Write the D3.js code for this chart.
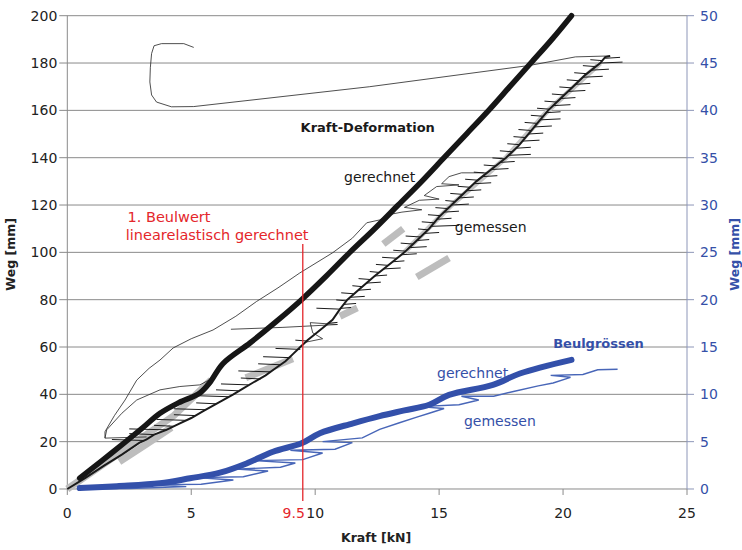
<!DOCTYPE html>
<html>
<head>
<meta charset="utf-8">
<script src="https://cdn.jsdelivr.net/npm/d3@7"></script>
<style>
    body { margin: 0; background: #fff; }
    text { font-family: "DejaVu Sans", sans-serif; }
</style>
</head>
<body>
<div id="graph"></div>
<script>
// Axis ticks
const xTicks = [0, 5, 10, 15, 20, 25];
const yLeftTicks = [0, 20, 40, 60, 80, 100, 120, 140, 160, 180, 200];
const yRightTicks = [0, 5, 10, 15, 20, 25, 30, 35, 40, 45, 50];
const beulwert = 9.5;

// Kraft-Deformation gerechnet [kN, mm]
const calcDeform = [[0.5,4.6],[1.4,12],[2.36,20],[3.0,25.5],[3.74,32],[4.5,36.5],[5.35,40.6],[5.75,45],[6.28,53],
    [7.37,61.7],[8.4,70.5],[9.45,80],[10.45,90],[11.4,100],[12.4,110],[13.35,120],[14.3,130],[15.2,140],
    [16.1,150],[17.0,160],[17.85,170],[18.7,180],[19.55,190],[20.34,200]];

// Kraft-Deformation gemessen, main trace [kN, mm]
const measDeform = [[0,0],[0.7,4.5],[1.5,10],[2.2,14.5],[2.9,19.5],[3.2,21],[3.5,23],[4.0,25],[4.5,27.5],
    [5.0,30],[5.5,33],[6.1,36.5],[6.7,40],[7.1,42.5],[7.5,45],[8.0,48],[8.4,51],[8.8,54],[9.1,57],[9.4,60],
    [9.7,63],[10.0,65.5],[10.3,68],[10.7,71.5],[11.0,76],[11.3,80],[11.85,85],[12.4,90],[13.0,95],[13.6,100],
    [14.1,105],[14.6,110],[15.0,115],[15.5,120],[16.0,125],[16.5,130],[17.1,135],[17.7,140],[18.2,145],
    [18.6,150],[19.0,155],[19.4,160],[19.9,165],[20.4,170],[20.9,175],[21.5,180],[21.7,182.5],[21.9,183]];

// Short spikes on the measured trace [kN, mm, spike length kN]
const measSpikes = [[3.1,20.5,-1.3],[3.5,23,-1.0],[4.0,25,-1.5],[4.3,26.5,-0.8],[4.8,29,-1.2],[5.2,31,-0.9],
    [5.6,33.5,-1.3],[6.0,36,-0.8],[6.5,39,-1.2],[6.9,41.5,-0.9],[7.3,44,-1.1],[7.8,46.5,-0.8],[8.2,49.5,-1.3],
    [8.6,52.5,-0.9],[9.0,55.5,-1.1],[9.4,59,-1.0],[9.7,62.5,-0.5],[10.5,70,0.4],[11.0,76,-0.95],[11.0,76.3,0.45],
    [11.15,78,0.5],[11.25,79.5,-0.4],[11.4,81,0.6],[11.55,82.5,-0.5],[11.75,84,0.5],[11.9,85.5,-0.4],
    [12.05,87,0.6],[12.25,88.5,-0.5],[12.4,90,0.5],[12.6,91.5,-0.4],[12.75,93,0.7],[12.95,94.5,-0.5],
    [13.1,96,0.5],[13.3,97.5,-0.6],[13.5,99,0.6],[13.65,100.5,-0.5],[13.8,102,0.7],[13.95,103.5,-0.5],
    [14.1,105,0.5],[14.25,106.5,-0.6],[14.4,108,0.6],[14.55,109.5,-0.4],[14.7,111,1.1],[14.8,112.5,-0.5],
    [14.9,114,0.6],[15.05,115.5,-0.5],[15.2,117,0.6],[15.35,118.5,-0.5],[15.5,120,0.7],[15.65,121.5,-0.4],
    [15.8,123,0.6],[15.95,124.5,-0.5],[16.1,126,0.6],[16.25,127.5,-0.5],[16.4,129,0.7],[16.55,130.5,-0.5],
    [16.75,132,0.6],[16.9,133.5,-0.5],[17.1,135,0.7],[17.3,136.5,-0.5],[17.45,138,0.6],[17.65,139.5,-0.5],
    [17.8,141,0.9],[17.95,142.5,-0.5],[18.1,144,0.6],[18.25,145.5,-0.5],[18.35,147,0.7],[18.5,148.5,-0.5],
    [18.6,150,0.6],[18.7,151.5,-0.5],[18.85,153,0.7],[18.95,154.5,-0.5],[19.1,156,0.8],[19.2,157.5,-0.5],
    [19.3,159,0.6],[19.45,160.5,-0.5],[19.6,162,0.7],[19.75,163.5,-0.5],[19.9,165,0.6],[20.05,166.5,-0.5],
    [20.2,168,0.7],[20.35,169.5,-0.5],[20.5,171,0.6],[20.65,172.5,-0.5],[20.8,174,0.8],[20.95,175.5,-0.5],
    [21.15,177,0.7],[21.3,178.5,-0.5],[21.5,180,0.9],[21.6,181,-0.5],[21.7,182,0.6]];

// Measured trace after unloading [kN, mm]
const measUnload = [[21.9,183],[20.5,182.6],[18.66,179],[12.2,170],[5.1,161.6],[4.2,161.5],[3.6,163.5],
    [3.4,166.5],[3.33,172],[3.35,178],[3.4,184],[3.5,187.3],[3.8,188.2],[4.7,188.2],[5.1,186.6]];

// Thin envelope traces [kN, mm]
const thinUpper = [[1.52,21.5],[1.52,24.2],[1.9,31],[2.33,37.6],[2.8,46],[3.3,51],[3.74,54.5],[4.27,59.6],
    [5.0,63.5],[5.88,67.2],[6.8,73],[7.63,79.2],[8.5,85],[9.38,91.3],[10.7,99.8],[11.5,106],[12.08,112.5],
    [12.6,113.7],[13.0,116],[13.5,117],[14.3,118],[13.6,119],[14.2,122],[15.0,122.5],[14.4,124],
    [14.9,127.8],[15.8,128.5],[15.1,129],[15.4,132],[15.9,133.6],[16.8,133.6]];
const thinInner = [[3.2,22],[1.52,21.5],[1.59,25],[2.2,32],[2.8,37.6],[3.74,41.9],[4.54,43.3],[5.35,44],
    [5.6,45.4],[5.9,47]];
const thinMid = [[6.6,67.5],[8.7,68.3],[10.9,69.5],[9.8,70.3],[9.9,66],[10.3,63.5],[9.6,62]];

// Grey measured band segments [kN, mm]
const greyBands = [
    [[0,0],[2.5,18],[4.3,31],[5.8,46]],
    [[2.1,11.5],[3.2,19],[4.2,26]],
    [[7.2,47],[9.1,55]],
    [[11.0,73],[11.7,76.5]],
    [[12.75,103.5],[13.55,110]],
    [[14.1,89.6],[15.4,97.6]]
];
const greyTrace = [[13.6,100],[15.5,120],[17.7,140],[19.4,160],[21.5,180]];

// Beulgrössen [kN, Weq mm]
const calcBuckle = [[0.5,0.1],[2.0,0.3],[3.74,0.6],[4.95,1.13],[6.16,1.72],[7.23,2.7],[8.3,3.94],[9.45,4.83],
    [10.19,5.89],[11.53,6.94],[12.6,7.7],[13.6,8.3],[14.6,8.9],[15.4,9.94],[17.17,11],[18.26,12.2],[20.34,13.64]];
const measBuckle = [[0.5,0],[2.5,0.05],[4.8,0.25],[3.0,0.45],[5.4,0.5],[6.7,0.95],[5.2,1.2],[7.1,1.3],
    [8.1,1.9],[6.8,2.1],[8.6,2.3],[9.2,2.75],[7.5,3.0],[9.5,3.1],[10.3,3.8],[9.0,4.1],[10.8,4.2],
    [11.5,4.9],[10.3,5.0],[11.9,5.4],[12.6,6.3],[13.4,7.0],[14.1,7.6],[14.6,8.0],[15.2,8.5],[14.2,8.7],
    [15.8,8.9],[16.6,9.4],[15.9,9.8],[17.2,9.8],[18.0,10.3],[19.0,10.9],[19.6,11.2],[20.3,11.8],
    [19.5,12.0],[20.8,12.1],[21.4,12.6],[22.2,12.65]];

const margin = {top: 15.7, right: 55, bottom: 61, left: 67.3};
const width = 742 - margin.left - margin.right;
const height = 550 - margin.top - margin.bottom;

const blue = "#3550a8";
const red = "#e4262b";
const gridColor = "#8a8a8a";

const svg = d3.select("#graph").append("svg")
    .attr("width", 742).attr("height", 550)
    .append("g")
    .attr("transform", "translate(" + margin.left + "," + margin.top + ")");

const x = d3.scaleLinear().domain([0, 25]).range([0, width]);
const y = d3.scaleLinear().domain([0, 200]).range([height, 0]);
const y2 = d3.scaleLinear().domain([0, 50]).range([height, 0]);

// grid lines
svg.selectAll(".grid").data(yLeftTicks).enter().append("line")
    .attr("x1", -8).attr("x2", width)
    .attr("y1", d => y(d)).attr("y2", d => y(d))
    .attr("stroke", gridColor).attr("stroke-width", 1);

// left axis line
svg.append("line").attr("x1", 0).attr("x2", 0).attr("y1", 0).attr("y2", height)
    .attr("stroke", gridColor);

// right axis
svg.append("line").attr("x1", width).attr("x2", width).attr("y1", 0).attr("y2", height)
    .attr("stroke", "#8d96b8");
svg.selectAll(".rtick").data(yRightTicks).enter().append("line")
    .attr("x1", width).attr("x2", width + 7)
    .attr("y1", d => y2(d)).attr("y2", d => y2(d))
    .attr("stroke", "#8d96b8");

// bottom ticks
svg.selectAll(".xtick").data(xTicks).enter().append("line")
    .attr("x1", d => x(d)).attr("x2", d => x(d))
    .attr("y1", height).attr("y2", height + 6)
    .attr("stroke", gridColor);

// tick labels
svg.selectAll(".ylab").data(yLeftTicks).enter().append("text")
    .attr("x", -10).attr("y", d => y(d)).attr("dy", "0.36em")
    .attr("text-anchor", "end").attr("font-size", 14).attr("fill", "#222")
    .text(d => d);
svg.selectAll(".y2lab").data(yRightTicks).enter().append("text")
    .attr("x", width + 13).attr("y", d => y2(d)).attr("dy", "0.36em")
    .attr("text-anchor", "start").attr("font-size", 14).attr("fill", blue)
    .text(d => d);
svg.selectAll(".xlab").data(xTicks).enter().append("text")
    .attr("x", d => x(d)).attr("y", height + 29)
    .attr("text-anchor", "middle").attr("font-size", 14).attr("fill", "#222")
    .text(d => d);

// axis titles
svg.append("text").attr("transform", "translate(" + (-52) + "," + (y(100) + 2) + ") rotate(-90)")
    .attr("text-anchor", "middle").attr("font-size", 12.5).attr("font-weight", "bold")
    .attr("fill", "#222").text("Weg [mm]");
svg.append("text").attr("transform", "translate(" + (width + 52) + "," + (y(100) + 2) + ") rotate(-90)")
    .attr("text-anchor", "middle").attr("font-size", 12.5).attr("font-weight", "bold")
    .attr("fill", blue).text("Weg [mm]");
svg.append("text").attr("x", x(12.5) - 1).attr("y", height + 53)
    .attr("text-anchor", "middle").attr("font-size", 12.5).attr("font-weight", "bold")
    .attr("fill", "#222").text("Kraft [kN]");

const line = d3.line().x(d => x(d[0])).y(d => y(d[1]));
const smooth = d3.line().x(d => x(d[0])).y(d => y(d[1])).curve(d3.curveCatmullRom);
const line2 = d3.line().x(d => x(d[0])).y(d => y2(d[1]));
const smooth2 = d3.line().x(d => x(d[0])).y(d => y2(d[1])).curve(d3.curveCatmullRom);

// grey measured band
greyBands.forEach(b => {
    svg.append("path").datum(b)
        .attr("fill", "none").attr("stroke", "#bdbdbd").attr("stroke-width", 7)
        .attr("stroke-linecap", "butt").attr("d", line);
});
svg.append("path").datum(greyTrace)
    .attr("fill", "none").attr("stroke", "#c4c4c4").attr("stroke-width", 5)
    .attr("d", line);

// thin envelope traces
[thinUpper, thinInner, thinMid, measUnload].forEach(t => {
    svg.append("path").datum(t)
        .attr("fill", "none").attr("stroke", "#222").attr("stroke-width", 0.8)
        .attr("d", line);
});

// measured trace
svg.append("path").datum(measDeform)
    .attr("fill", "none").attr("stroke", "#1a1a1a").attr("stroke-width", 2)
    .attr("d", line);
svg.selectAll(".spike").data(measSpikes).enter().append("line")
    .attr("x1", d => x(d[0])).attr("x2", d => x(d[0] + d[2]))
    .attr("y1", d => y(d[1])).attr("y2", d => y(d[1] + 0.4))
    .attr("stroke", "#1a1a1a").attr("stroke-width", 1);

// computed trace
svg.append("path").datum(calcDeform)
    .attr("fill", "none").attr("stroke", "#161616").attr("stroke-width", 5.5)
    .attr("stroke-linecap", "round").attr("d", smooth);

// Beulgrössen
svg.append("path").datum(measBuckle)
    .attr("fill", "none").attr("stroke", "#4866b8").attr("stroke-width", 1.4)
    .attr("d", line2);
svg.append("path").datum(calcBuckle)
    .attr("fill", "none").attr("stroke", "#3350aa").attr("stroke-width", 6)
    .attr("stroke-linecap", "round").attr("d", smooth2);

// first buckling value
svg.append("line")
    .attr("x1", x(beulwert)).attr("x2", x(beulwert))
    .attr("y1", y(103.5)).attr("y2", height + 12)
    .attr("stroke", red).attr("stroke-width", 1.3);
svg.append("text").attr("x", x(beulwert) + 2).attr("y", height + 29)
    .attr("text-anchor", "end").attr("font-size", 14).attr("fill", red).text("9.5");
svg.append("text").attr("x", x(2.43)).attr("y", y(113))
    .attr("font-size", 14.5).attr("fill", red).text("1. Beulwert");
svg.append("text").attr("x", x(2.36)).attr("y", y(105.2))
    .attr("font-size", 14.5).attr("fill", red).text("linearelastisch gerechnet");

// annotations
svg.append("text").attr("x", x(12.12)).attr("y", y(150.8))
    .attr("text-anchor", "middle").attr("font-size", 13).attr("font-weight", "bold")
    .attr("fill", "#1a1a1a").text("Kraft-Deformation");
svg.append("text").attr("x", x(12.6)).attr("y", y(129.8))
    .attr("text-anchor", "middle").attr("font-size", 14).attr("fill", "#1a1a1a").text("gerechnet");
svg.append("text").attr("x", x(17.08)).attr("y", y(108.4))
    .attr("text-anchor", "middle").attr("font-size", 14).attr("fill", "#1a1a1a").text("gemessen");
svg.append("text").attr("x", x(21.43)).attr("y", y2(14.9))
    .attr("text-anchor", "middle").attr("font-size", 13).attr("font-weight", "bold")
    .attr("fill", blue).text("Beulgrössen");
svg.append("text").attr("x", x(16.35)).attr("y", y2(11.7))
    .attr("text-anchor", "middle").attr("font-size", 14).attr("fill", blue).text("gerechnet");
svg.append("text").attr("x", x(17.45)).attr("y", y2(6.66))
    .attr("text-anchor", "middle").attr("font-size", 14).attr("fill", blue).text("gemessen");
</script>
</body>
</html>
